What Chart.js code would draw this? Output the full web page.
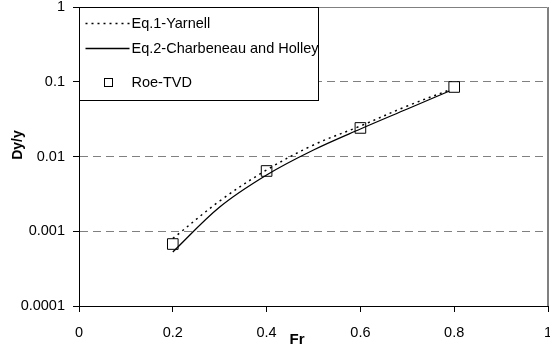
<!DOCTYPE html>
<html><head><meta charset="utf-8">
<script src="https://cdn.jsdelivr.net/npm/chart.js@4.4.0/dist/chart.umd.min.js"></script>
<style>html,body{margin:0;padding:0;background:#fff;}#wrap{width:550px;height:349px;position:relative;}canvas{display:block;}</style>
</head><body><div id="wrap"><canvas id="c" width="550" height="349"></canvas></div>
<script>
const frCurve = [0.2, 0.3, 0.4, 0.5, 0.6, 0.7, 0.79];
const eq1Yarnell = [0.0008, 0.00254, 0.0066, 0.01426, 0.0256, 0.0474, 0.0776];
const eq2Charbeneau = [0.000527, 0.00211, 0.00566, 0.01222, 0.02333, 0.0432, 0.0752];
const frRoe = [0.2, 0.4, 0.6, 0.8];
const roeTVD = [0.000675, 0.0064, 0.0241, 0.0851];
const yTicks = [0.0001, 0.001, 0.01, 0.1, 1];
const yTickLabels = ['0.0001', '0.001', '0.01', '0.1', '1'];
const xTickLabels = ['0', '0.2', '0.4', '0.6', '0.8', '1'];
const seriesLabels = ['Eq.1-Yarnell', 'Eq.2-Charbeneau and Holley', 'Roe-TVD'];
const xTitle = 'Fr', yTitle = 'Dy/y';

const FONT = "'Liberation Sans', Arial, sans-serif";
const pts = (xs, ys) => xs.map((x, i) => ({x: x, y: ys[i]}));

const boxPlugin = {
  id: 'boxPlugin',
  afterDraw(chart) {
    const ctx = chart.ctx, a = chart.chartArea;
    ctx.save();
    ctx.strokeStyle = '#808080'; ctx.lineWidth = 1; ctx.setLineDash([]);
    ctx.beginPath();
    ctx.moveTo(a.left, a.top + 0.5); ctx.lineTo(a.right - 0.5, a.top + 0.5); ctx.lineTo(a.right - 0.5, a.bottom);
    ctx.stroke();
    const L = a.left + 0.5, T = a.top + 0.5, W = 239, H = 93;
    ctx.fillStyle = '#fff'; ctx.fillRect(L, T, W, H);
    ctx.strokeStyle = '#000'; ctx.strokeRect(L, T, W, H);
    const ds = chart.data.datasets;
    ctx.font = "14.5px " + FONT; ctx.fillStyle = '#000'; ctx.textBaseline = 'middle'; ctx.textAlign = 'left';
    const rows = [T + 16, T + 41, T + 75];
    for (let i = 0; i < 2; i++) {
      ctx.beginPath(); ctx.lineWidth = ds[i].borderWidth; ctx.strokeStyle = ds[i].borderColor;
      ctx.setLineDash(ds[i].borderDash || []);
      ctx.moveTo(L + 6, rows[i]); ctx.lineTo(L + 50, rows[i]); ctx.stroke();
    }
    ctx.setLineDash([]); ctx.lineWidth = 1; ctx.strokeStyle = '#000';
    ctx.strokeRect(L + 25, rows[2] - 4, 8, 8);
    for (let i = 0; i < 3; i++) ctx.fillText(ds[i].label, L + 52, rows[i]);
    ctx.font = "bold 15px " + FONT; ctx.textAlign = 'center';
    ctx.fillText(xTitle, 297, 340);
    ctx.translate(18, 145); ctx.rotate(-Math.PI / 2);
    ctx.font = "bold 14px " + FONT;
    ctx.fillText(yTitle, 0, 0);
    ctx.restore();
  }
};

new Chart(document.getElementById('c'), {
  type: 'line',
  data: {
    datasets: [
      {label: seriesLabels[0], data: pts(frCurve, eq1Yarnell), borderColor: '#000', borderWidth: 1.5,
       borderDash: [2, 4], pointRadius: 0, tension: 0.35, fill: false},
      {label: seriesLabels[1], data: pts(frCurve, eq2Charbeneau), borderColor: '#000', borderWidth: 1.3,
       pointRadius: 0, tension: 0.35, fill: false},
      {label: seriesLabels[2], data: pts(frRoe, roeTVD), showLine: false, pointStyle: 'rect',
       pointRadius: 7.5, pointBorderColor: '#000', pointBackgroundColor: 'rgba(0,0,0,0)', pointBorderWidth: 1,
       borderColor: '#000'}
    ]
  },
  options: {
    responsive: false, animation: false, devicePixelRatio: 1,
    layout: {autoPadding: false, padding: {top: 7, right: 2, left: 0, bottom: 0}},
    plugins: {legend: {display: false}, tooltip: {enabled: false}},
    scales: {
      x: {
        type: 'linear', min: 0, max: 1,
        ticks: {stepSize: 0.2, padding: 12, color: '#000', font: {family: FONT, size: 14.5},
                callback: (v, i) => xTickLabels[i], maxRotation: 0},
        grid: {color: (c) => (c.tick && Math.abs(c.tick.value - 1) < 1e-9) ? '#808080' : 'rgba(0,0,0,0)',
               tickColor: '#000', tickLength: 6, tickBorderDash: [], lineWidth: 1},
        border: {color: '#000', width: 1},
        afterFit: (s) => { s.height = 43; s.paddingLeft = 0; s.paddingRight = 0; }
      },
      y: {
        type: 'logarithmic', min: 0.0001, max: 1,
        afterBuildTicks: (s) => { s.ticks = yTicks.map(v => ({value: v})); },
        ticks: {padding: 8, color: '#000', font: {family: FONT, size: 14.5},
                callback: (v) => yTickLabels[yTicks.indexOf(v)]},
        grid: {color: (c) => (c.tick && (c.tick.value === 1 || c.tick.value === 0.0001)) ? 'rgba(0,0,0,0)' : '#808080',
               tickColor: '#000', tickLength: 6, tickBorderDash: [], lineWidth: 1},
        border: {color: '#000', width: 1, dash: [8, 5]},
        afterFit: (s) => { s.width = 79; s.paddingTop = 0; s.paddingBottom = 0; }
      }
    }
  },
  plugins: [boxPlugin]
});
</script></body></html>
